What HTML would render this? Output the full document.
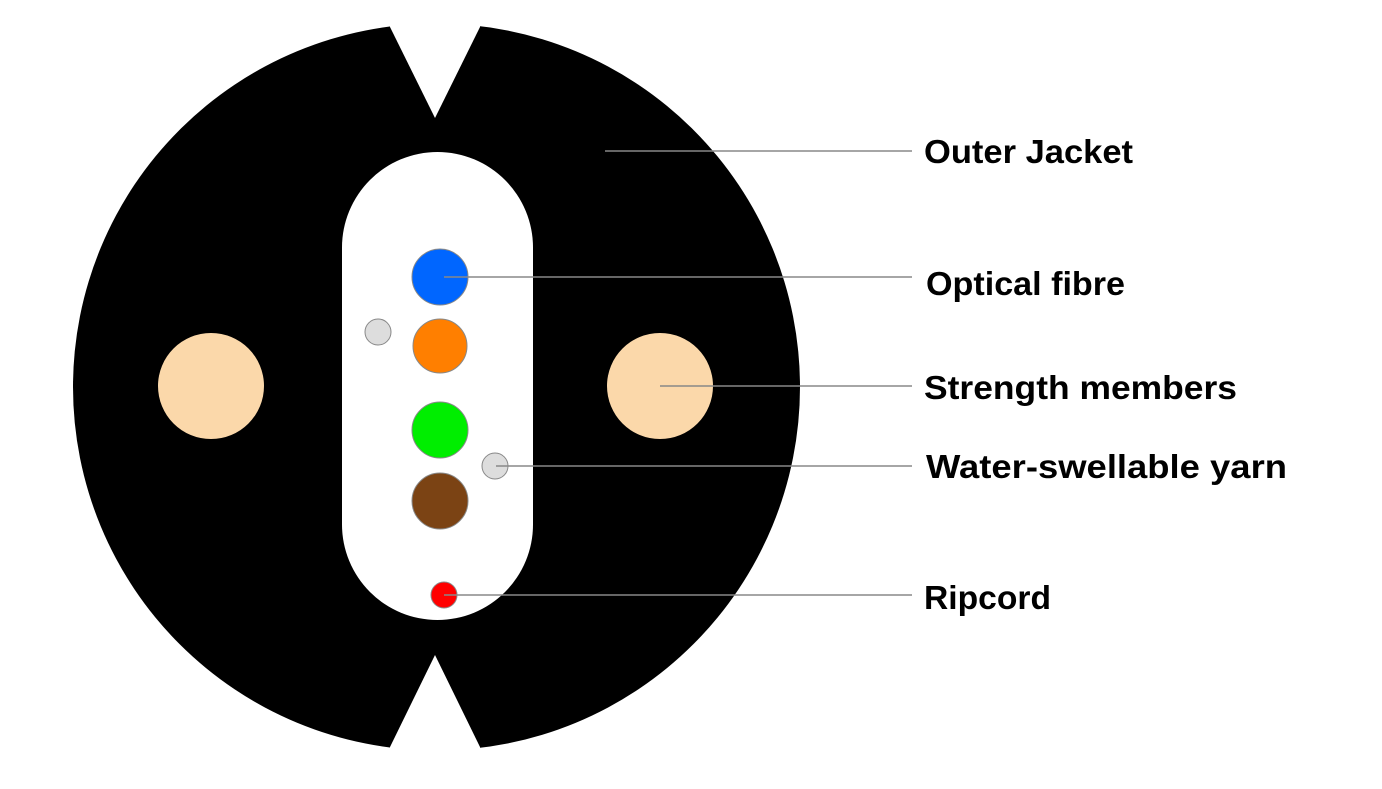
<!DOCTYPE html>
<html><head><meta charset="utf-8"><style>html,body{margin:0;padding:0;background:#fff}</style></head><body>
<svg width="1382" height="784" viewBox="0 0 1382 784" xmlns="http://www.w3.org/2000/svg">
<circle cx="436.5" cy="387" r="363.5" fill="#000"/>
<polygon points="388,0 390,27 435,118 480,27 482,0" fill="#fff"/>
<polygon points="388,784 390,747 435,655 480,747 482,784" fill="#fff"/>
<rect x="342" y="152" width="191" height="468" rx="95.5" ry="95.5" fill="#fff"/>
<circle cx="211" cy="386" r="53" fill="#fbd8aa"/>
<circle cx="660" cy="386" r="53" fill="#fbd8aa"/>
<g stroke="#888" stroke-width="1">
<circle cx="440" cy="277" r="28" fill="#0066ff"/>
<circle cx="440" cy="346" r="27" fill="#ff7f00"/>
<circle cx="440" cy="430" r="28" fill="#00ee00"/>
<circle cx="440" cy="501" r="28" fill="#7b4314"/>
<circle cx="444" cy="595" r="13" fill="#ff0000"/>
<circle cx="378" cy="332" r="13" fill="#ddd"/>
<circle cx="495" cy="466" r="13" fill="#ddd"/>
</g>
<g stroke="#888" stroke-width="1.5">
<line x1="605" y1="151" x2="912" y2="151"/>
<line x1="444" y1="277" x2="912" y2="277"/>
<line x1="660" y1="386" x2="912" y2="386"/>
<line x1="496" y1="466" x2="912" y2="466"/>
<line x1="444" y1="595" x2="912" y2="595"/>
</g>
<g font-family="Liberation Sans, sans-serif" font-weight="bold" font-size="33" fill="#000" lengthAdjust="spacingAndGlyphs">
<text x="924" y="163" textLength="209" lengthAdjust="spacingAndGlyphs">Outer Jacket</text>
<text x="926" y="295" textLength="199" lengthAdjust="spacingAndGlyphs">Optical fibre</text>
<text x="924" y="399" textLength="313" lengthAdjust="spacingAndGlyphs">Strength members</text>
<text x="926" y="478" textLength="361" lengthAdjust="spacingAndGlyphs">Water-swellable yarn</text>
<text x="924" y="609" textLength="127" lengthAdjust="spacingAndGlyphs">Ripcord</text>
</g>
</svg>
</body></html>
